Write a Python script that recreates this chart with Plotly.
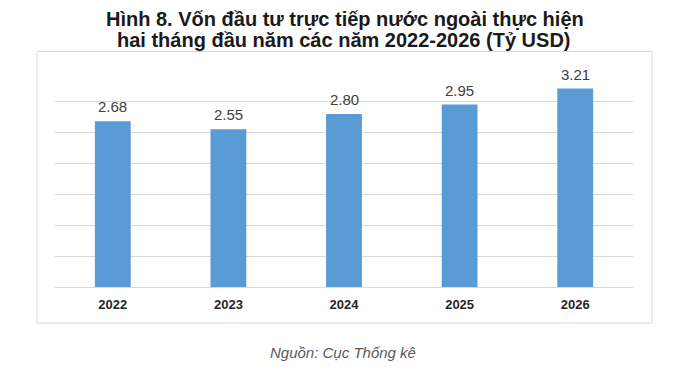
import plotly.graph_objects as go

years = ["2022", "2023", "2024", "2025", "2026"]
values = [2.68, 2.55, 2.80, 2.95, 3.21]
value_labels = ["2.68", "2.55", "2.80", "2.95", "3.21"]
title_line1 = "Hình 8. Vốn đầu tư trực tiếp nước ngoài thực hiện"
title_line2 = "hai tháng đầu năm các năm 2022-2026 (Tỷ USD)"
source_text = "Nguồn: Cục Thống kê"

W, H = 698, 367
L, R, T, B = 55, 65, 70, 80
pw, ph = W - L - R, H - T - B
FONT = "Liberation Sans, Arial"

def px_x(x):
    return (x - L) / pw

def px_y(y):
    return (H - B - y) / ph

fig = go.Figure()
fig.add_trace(go.Bar(
    x=years, y=values,
    marker=dict(color="#5B9BD5", line=dict(width=0)),
    hoverinfo="skip",
))

annotations = [
    dict(text=title_line1, xref="paper", yref="paper", x=px_x(345), y=px_y(18.5),
         xanchor="center", yanchor="middle", showarrow=False,
         font=dict(family=FONT, size=20, color="#1a1a1a", weight="bold")),
    dict(text=title_line2, xref="paper", yref="paper", x=px_x(344), y=px_y(40),
         xanchor="center", yanchor="middle", showarrow=False,
         font=dict(family=FONT, size=20, color="#1a1a1a", weight="bold")),
    dict(text=source_text, xref="paper", yref="paper", x=px_x(343), y=px_y(352),
         xanchor="center", yanchor="middle", showarrow=False,
         font=dict(family=FONT, size=15, color="#595959", style="italic")),
]
for i, (v, lab) in enumerate(zip(values, value_labels)):
    annotations.append(dict(
        text=lab, x=i, y=v, xref="x", yref="y", xanchor="center", yanchor="bottom",
        yshift=4, showarrow=False,
        font=dict(family=FONT, size=15, color="#404040"),
    ))

fig.update_layout(
    width=W, height=H,
    margin=dict(l=L, r=R, t=T, b=B),
    paper_bgcolor="white", plot_bgcolor="white",
    bargap=0.69,
    showlegend=False,
    xaxis=dict(
        type="category", range=[-0.5, len(years) - 0.5],
        showgrid=False, showline=True, linecolor="#d9d9d9", linewidth=1,
        ticks="", tickfont=dict(family=FONT, size=13, color="#262626", weight="bold"),
        ticklabelstandoff=5,
    ),
    yaxis=dict(
        range=[0, 3.51], tick0=0, dtick=0.5, showgrid=True, gridcolor="#d9d9d9", gridwidth=1,
        showticklabels=False, zeroline=False, showline=False, ticks="",
    ),
    shapes=[dict(
        type="rect", xref="paper", yref="paper",
        x0=px_x(37), x1=px_x(652), y0=px_y(323), y1=px_y(51.5),
        line=dict(color="#d9d9d9", width=1), fillcolor="rgba(0,0,0,0)", layer="below",
    )],
    annotations=annotations,
)

fig.write_html("out.html", config={"displayModeBar": False},
               post_script="document.body.style.margin='0';")
